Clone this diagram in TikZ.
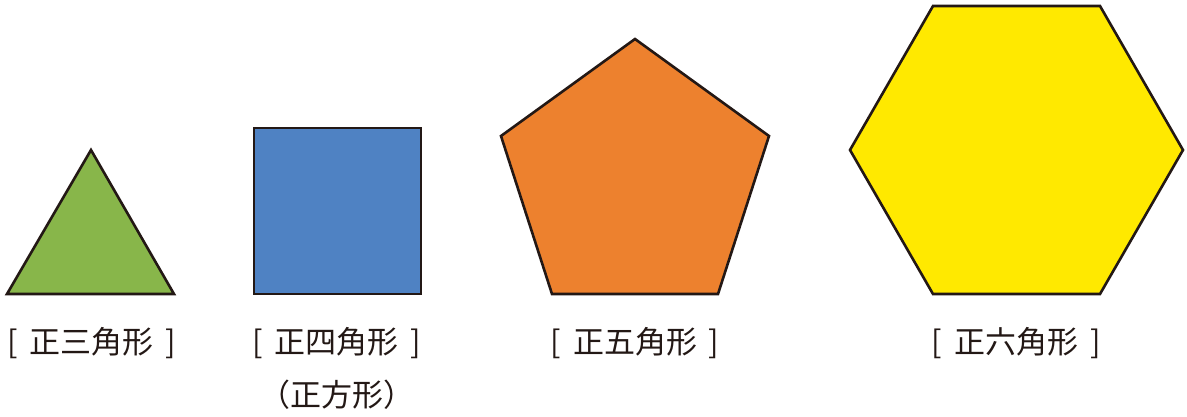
\documentclass[tikz,border=0pt]{standalone}
\usepackage{fontspec}
\newfontfamily\cjk{Noto Sans CJK JP}[Scale=1]
\definecolor{ink}{HTML}{231815}
\definecolor{tgreen}{HTML}{88B64A}
\definecolor{sblue}{HTML}{4F82C3}
\definecolor{porange}{HTML}{ED812E}
\definecolor{hyellow}{HTML}{FFE900}
\newcommand{\lb}{[\hspace{12pt}}
\newcommand{\rb}{\hspace{12pt}]}
\begin{document}
\begin{tikzpicture}[x=1pt,y=-1pt,
  poly/.style={draw=ink,line width=2.6pt,line join=miter},
  lbl/.style={text=ink,font=\cjk\fontsize{31}{34}\selectfont,inner sep=0pt,anchor=center}]
\useasboundingbox (0,0) rectangle (1187,416);
% triangle
\draw[poly,fill=tgreen] (91,150) -- (174,294) -- (7,294) -- cycle;
% square
\draw[poly,fill=sblue] (254,128) rectangle (421,294);
% pentagon
\draw[poly,fill=porange] (635,39) -- (769,136) -- (718,294) -- (552,294) -- (501,136) -- cycle;
% hexagon
\draw[poly,fill=hyellow] (933,6) -- (1100,6) -- (1183,150) -- (1100,294) -- (933,294) -- (850,150) -- cycle;
% labels
\node[lbl] (l3) at (92,343) {\lb 正三角形\rb};
\node[lbl] (l4) at (337,343) {\lb 正四角形\rb};
\node[lbl] (l4b) at (337,395) {（正方形）};
\node[lbl] (l5) at (635,343) {\lb 正五角形\rb};
\node[lbl] (l6) at (1016,343) {\lb 正六角形\rb};
\end{tikzpicture}
\end{document}
